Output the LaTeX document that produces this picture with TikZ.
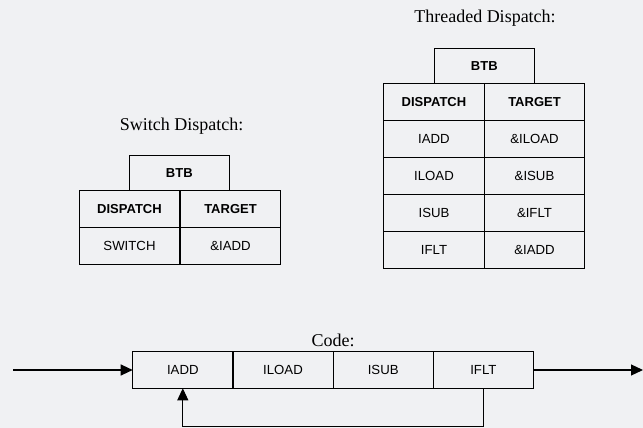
\documentclass[tikz,border=0pt]{standalone}
\usepackage{fontspec}
\setmainfont{Liberation Serif}
\newfontfamily\cellfont{Liberation Sans}
\usetikzlibrary{arrows.meta}
\definecolor{bg}{RGB}{240,241,243}
\tikzset{
  cell/.style={draw, line width=1.2pt, minimum width=100.5pt, minimum height=37pt,
    inner sep=0pt, outer sep=0pt, font=\cellfont\fontsize{13.2}{15}\selectfont},
  head/.style={cell, font=\cellfont\bfseries\fontsize{13}{15}\selectfont},
  btb/.style={head, minimum width=100pt, minimum height=35pt},
  codecell/.style={cell, minimum width=100.2pt, minimum height=36.6pt},
  title/.style={anchor=base, inner sep=0pt, font=\fontsize{18}{21}\selectfont},
  flow/.style={line width=1.2pt, -{Triangle[length=12pt,width=11pt]}}
}
\begin{document}
\begin{tikzpicture}[x=1pt,y=1pt]
\fill[bg] (0,0) rectangle (643,-428);
\useasboundingbox (0,0) rectangle (643,-428);

% Switch dispatch
\node[title] (swt) at (181.5,-130.7) {Switch Dispatch:};
\node[btb] (sbtb) at (179.3,-173.3) {BTB};
\node[head] (sd) at (129.5,-209.2) {DISPATCH};
\node[head] (st) at (230.5,-209.2) {TARGET};
\node[cell] (s1) at (129.5,-246.2) {SWITCH};
\node[cell] (s2) at (230.5,-246.2) {\&IADD};

% Threaded dispatch
\node[title] (tht) at (485,-23) {Threaded Dispatch:};
\node[btb] (tbtb) at (484.3,-65.8) {BTB};
\node[head] (td) at (434,-101.8) {DISPATCH};
\node[head] (tt) at (534.5,-101.8) {TARGET};
\node[cell] (t1a) at (434,-138.8) {IADD};
\node[cell] (t1b) at (534.5,-138.8) {\&ILOAD};
\node[cell] (t2a) at (434,-175.8) {ILOAD};
\node[cell] (t2b) at (534.5,-175.8) {\&ISUB};
\node[cell] (t3a) at (434,-212.8) {ISUB};
\node[cell] (t3b) at (534.5,-212.8) {\&IFLT};
\node[cell] (t4a) at (434,-249.8) {IFLT};
\node[cell] (t4b) at (534.5,-249.8) {\&IADD};

% Code
\node[title] (ct) at (333,-346) {Code:};
\node[codecell] (c1) at (182.8,-370) {IADD};
\node[codecell] (c2) at (283,-370) {ILOAD};
\node[codecell] (c3) at (383.2,-370) {ISUB};
\node[codecell] (c4) at (483.4,-370) {IFLT};

\coordinate (in) at (13,-370);
\coordinate (out) at (643,-370);
\coordinate (loopy) at (0,-426.5);

\draw[flow] (in) -- (c1.west);
\draw[flow] (c4.east) -- (out);
\draw[flow, line width=1pt] (c4.south) -- (c4.south |- loopy) -| (c1.south);
\end{tikzpicture}
\end{document}
